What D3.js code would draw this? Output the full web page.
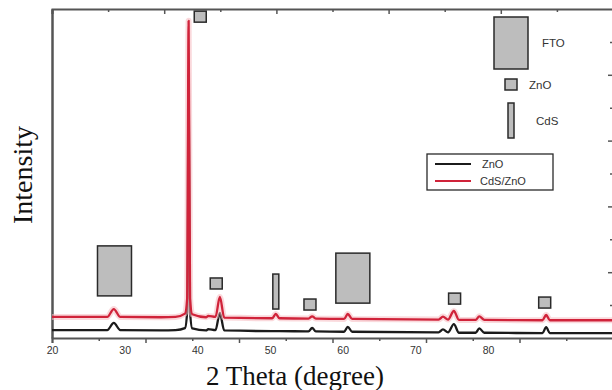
<!DOCTYPE html>
<html>
<head>
<meta charset="utf-8">
<script src="https://cdn.jsdelivr.net/npm/d3@7"></script>
<style>
  html, body { margin: 0; padding: 0; background: #fff; }
  svg { display: block; }
</style>
</head>
<body>
<svg id="chart" width="612" height="390"></svg>
<script>
// XRD patterns: diffraction angle (2θ, degrees) and intensity (a.u.)
const twoTheta = [20, 27.6, 28.5, 29.4, 35, 37, 38.3, 38.6, 38.8, 39.0, 39.3, 41.2, 41.5, 42.5, 43.1, 43.7,
  50.3, 50.8, 51.3, 55.3, 55.8, 56.3, 60.2, 60.7, 61.3, 73.2, 73.8, 74.5, 75.3, 76, 78.3, 78.8, 79.5,
  87.5, 88, 88.5, 97.2];
const znoIntensity = [2.4, 2.4, 4.6, 2.4, 2.3, 2.4, 3.0, 8, 80, 8, 2.9, 2.3, 2.7, 2.4, 7.6, 2.3,
  2.1, 2.1, 2.1, 2.0, 3.1, 2.0, 1.9, 3.4, 1.9, 1.7, 2.6, 1.7, 4.2, 1.6, 1.6, 2.9, 1.6,
  1.5, 3.3, 1.5, 1.5];
const cdsZnoIntensity = [6.4, 6.4, 8.8, 6.4, 6.3, 6.4, 7.4, 12, 96.4, 12, 7.2, 6.3, 6.7, 6.4, 12.5, 6.2,
  6.0, 7.3, 6.0, 5.9, 6.6, 5.9, 5.8, 7.3, 5.8, 5.6, 6.5, 5.6, 8.2, 5.5, 5.5, 6.6, 5.5,
  5.4, 7.0, 5.4, 5.4];

const seriesNames = ["ZnO", "CdS/ZnO"];
const xTickLabels = [20, 30, 40, 50, 60, 70, 80];

// Phase identification marks: phase, 2θ position, intensity level of the mark's lower edge
const markPhase = ["FTO", "ZnO", "ZnO", "CdS", "ZnO", "FTO", "ZnO", "ZnO"];
const mark2Theta = [28.6, 40.4, 42.6, 50.8, 55.5, 61.4, 75.4, 87.8];
const markLevel = [12.8, 96.0, 14.9, 8.8, 8.5, 10.6, 10.3, 9.1];
const phaseNames = ["FTO", "ZnO", "CdS"];

// ---- layout ----
const plotLeft = 52, plotRight = 613, plotTop = 9, plotBottom = 338;
const svg = d3.select("#chart");

const x = d3.scaleLinear().domain([20, 97.2]).range([plotLeft, plotRight]);
const y = d3.scaleLinear().domain([0, 100]).range([plotBottom, plotTop]);
// frame tick divisions on the box edges
const xBottomFrame = d3.scaleLinear().domain([0, 12]).range([plotLeft, plotRight]);
const xTopFrame = d3.scaleLinear().domain([0, 10]).range([plotLeft, plotRight]);

const markSize = { FTO: { w: 34, h: 50 }, ZnO: { w: 12, h: 11 }, CdS: { w: 6, h: 35 } };
const axisColor = "#555";
const labelFont = "Liberation Sans, Arial, sans-serif";
const titleFont = "Liberation Serif, Times New Roman, serif";

// ---- frame ----
const gFrame = svg.append("g");
// bottom axis with minor/major divisions
gFrame.append("g")
  .attr("transform", `translate(0,${plotBottom})`)
  .call(d3.axisBottom(xBottomFrame).tickValues(d3.range(0, 13, 2)).tickSize(5).tickFormat(""))
  .call(g => g.select(".domain").attr("stroke", axisColor).attr("stroke-width", 2));
gFrame.append("g")
  .attr("transform", `translate(0,${plotBottom})`)
  .call(d3.axisBottom(xBottomFrame).tickValues(d3.range(1, 13, 2)).tickSize(3).tickFormat(""))
  .call(g => g.select(".domain").remove());
// top axis, ticks pointing inward
gFrame.append("g")
  .attr("transform", `translate(0,${plotTop})`)
  .call(d3.axisBottom(xTopFrame).tickValues(d3.range(0, 11, 2)).tickSize(5).tickFormat(""))
  .call(g => g.select(".domain").attr("stroke", axisColor).attr("stroke-width", 2));
gFrame.append("g")
  .attr("transform", `translate(0,${plotTop})`)
  .call(d3.axisBottom(xTopFrame).tickValues(d3.range(1, 11, 2)).tickSize(3).tickFormat(""))
  .call(g => g.select(".domain").remove());
// right axis, ticks pointing inward
gFrame.append("g")
  .attr("transform", `translate(${plotRight},0)`)
  .call(d3.axisLeft(y).tickValues([20, 40, 60, 80]).tickSize(5).tickFormat(""))
  .call(g => g.select(".domain").remove());
gFrame.append("g")
  .attr("transform", `translate(${plotRight},0)`)
  .call(d3.axisLeft(y).tickValues([10, 30, 50, 70, 90]).tickSize(3).tickFormat(""))
  .call(g => g.select(".domain").remove());
// left spine
gFrame.append("g")
  .attr("transform", `translate(${plotLeft},0)`)
  .call(d3.axisLeft(y).tickValues([]).tickSizeOuter(0))
  .call(g => g.select(".domain").attr("stroke", axisColor).attr("stroke-width", 2.5));
gFrame.selectAll(".tick line").attr("stroke", axisColor).attr("stroke-width", 1.5);

// angle labels
svg.append("g")
  .attr("transform", `translate(0,${plotBottom})`)
  .call(d3.axisBottom(x).tickValues(xTickLabels).tickSize(0).tickPadding(9).tickFormat(d3.format("d")))
  .call(g => g.select(".domain").remove())
  .call(g => g.selectAll("text")
    .attr("font-family", labelFont).attr("font-size", 10.5).attr("fill", "#333"));

// axis titles
svg.append("text")
  .attr("x", 295).attr("y", 385)
  .attr("text-anchor", "middle")
  .attr("font-family", titleFont).attr("font-size", 27).attr("fill", "#111")
  .text("2 Theta (degree)");
svg.append("text")
  .attr("transform", "translate(32,175) rotate(-90)")
  .attr("text-anchor", "middle")
  .attr("font-family", titleFont).attr("font-size", 28).attr("fill", "#111")
  .text("Intensity");

// ---- patterns ----
const line = d3.line().curve(d3.curveMonotoneX).x((d, i) => x(twoTheta[i])).y(d => y(d));
const gLines = svg.append("g");
gLines.append("path").datum(znoIntensity)
  .attr("d", line).attr("fill", "none")
  .attr("stroke", "#1b1b1b").attr("stroke-width", 2.3).attr("stroke-linejoin", "round");
gLines.append("path").datum(cdsZnoIntensity)
  .attr("d", line).attr("fill", "none")
  .attr("stroke", "#f6b9c0").attr("stroke-opacity", 0.55).attr("stroke-width", 6).attr("stroke-linejoin", "round");
gLines.append("path").datum(cdsZnoIntensity)
  .attr("d", line).attr("fill", "none")
  .attr("stroke", "#d0233a").attr("stroke-width", 2.3).attr("stroke-linejoin", "round");

// ---- phase marks ----
const marks = markPhase.map((p, i) => ({ phase: p, t: mark2Theta[i], level: markLevel[i] }));
svg.append("g").selectAll("rect").data(marks).join("rect")
  .attr("x", d => x(d.t) - markSize[d.phase].w / 2)
  .attr("y", d => y(d.level) - markSize[d.phase].h)
  .attr("width", d => markSize[d.phase].w)
  .attr("height", d => markSize[d.phase].h)
  .attr("fill", "#bdbdbd").attr("stroke", "#2a2a2a").attr("stroke-width", 1.5);

// ---- phase key ----
const keyTop = { FTO: 17, ZnO: 79, CdS: 103 };
const keyTextX = { FTO: 542, ZnO: 529, CdS: 536 };
const gKey = svg.append("g");
phaseNames.forEach(p => {
  const s = markSize[p];
  gKey.append("rect")
    .attr("x", 511 - s.w / 2).attr("y", keyTop[p])
    .attr("width", s.w).attr("height", s.h + (p === "FTO" ? 2 : 0))
    .attr("fill", "#bdbdbd").attr("stroke", "#2a2a2a").attr("stroke-width", 1.5);
  gKey.append("text")
    .attr("x", keyTextX[p]).attr("y", keyTop[p] + (s.h + (p === "FTO" ? 2 : 0)) / 2 + 4)
    .attr("font-family", labelFont).attr("font-size", 11.5).attr("fill", "#333")
    .text(p);
});

// ---- series legend ----
const seriesColors = ["#1b1b1b", "#d0233a"];
const gLeg = svg.append("g");
gLeg.append("rect")
  .attr("x", 427).attr("y", 154).attr("width", 126).attr("height", 36)
  .attr("fill", "#fff").attr("stroke", "#2a2a2a").attr("stroke-width", 1.3);
seriesNames.forEach((name, i) => {
  const ly = 164 + i * 17;
  gLeg.append("line")
    .attr("x1", 435).attr("x2", 471).attr("y1", ly).attr("y2", ly)
    .attr("stroke", seriesColors[i]).attr("stroke-width", 2);
  gLeg.append("text")
    .attr("x", i === 0 ? 482 : 480).attr("y", ly + 4)
    .attr("font-family", labelFont).attr("font-size", 11).attr("fill", "#333")
    .text(name);
});
</script>
</body>
</html>
